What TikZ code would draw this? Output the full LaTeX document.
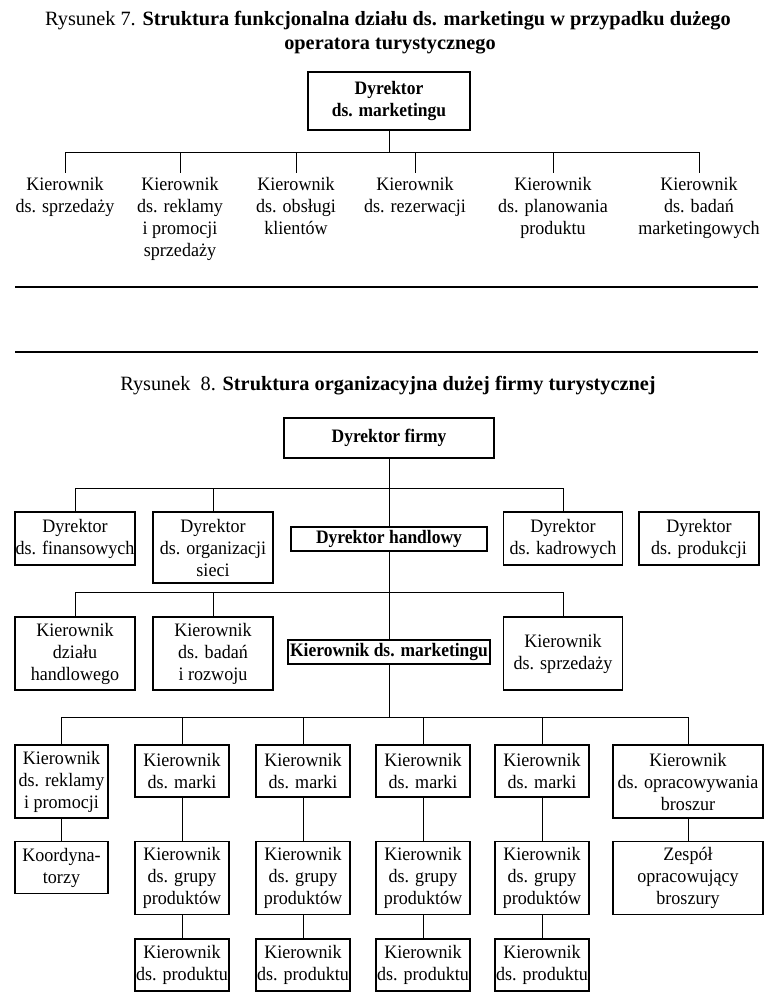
\documentclass[tikz,border=0pt]{standalone}
\usepackage{fontspec}
\setmainfont{Liberation Serif}
\newfontfamily\bodyf{Liberation Serif}[FakeStretch=0.95]
\newfontfamily\boldf{Liberation Serif}[FakeStretch=0.92]
\begin{document}
\begin{tikzpicture}[x=1pt,y=-1pt,
  every node/.style={font=\bodyf\fontsize{19}{22}\selectfont, align=center, inner sep=0pt},
  title/.style={font=\rmfamily\fontsize{20.3}{25}\selectfont},
  box/.style={draw, line width=1.2pt},
  bx/.style 2 args={box, minimum width=#1pt, minimum height=#2pt},
  bold/.style={font=\boldf\bfseries\fontsize{19}{22}\selectfont},
  lbl/.style={anchor=north, inner ysep=4pt},
  ln/.style={line width=0.9pt},
  rule/.style={line width=2.6pt}
]
\useasboundingbox (0,0) rectangle (769,1004);

% ---------- Figure 7 ----------
\node[title] (t7a) at (388,21) {Rysunek 7. \textbf{Struktura funkcjonalna działu ds. marketingu w przypadku dużego}};
\node[title] (t7b) at (390,46) {\textbf{operatora turystycznego}};

\node[bx={162}{58}, bold] (dm) at (389,101) {Dyrektor\\ds. marketingu};
\coordinate (b7) at (389,152);

\node[lbl] (k1) at (65,173) {Kierownik\\ds. sprzedaży};
\node[lbl] (k2) at (180,173) {Kierownik\\ds. reklamy\\i promocji\\sprzedaży};
\node[lbl] (k3) at (296,173) {Kierownik\\ds. obsługi\\klientów};
\node[lbl] (k4) at (415,173) {Kierownik\\ds. rezerwacji};
\node[lbl] (k5) at (553,173) {Kierownik\\ds. planowania\\produktu};
\node[lbl] (k6) at (699,173) {Kierownik\\ds. badań\\marketingowych};

\draw[ln] (dm.south) -- (b7);
\foreach \k in {k1,k2,k3,k4,k5,k6} \draw[ln] (b7) -| (\k.north);

\draw[rule] (15,287) -- (758,287);
\draw[rule] (15,352) -- (758,352);

% ---------- Figure 8 ----------
\node[title] (t8) at (388,386) {Rysunek~~8. \textbf{Struktura organizacyjna dużej firmy turystycznej}};

\node[bx={210}{40}, bold] (df) at (389,438) {Dyrektor firmy};

\node[bx={120}{53}] (fin) at (75,538.5) {Dyrektor\\ds. finansowych};
\node[bx={120}{71}] (org) at (213,547.5) {Dyrektor\\ds. organizacji\\sieci};
\node[bx={196}{24}, bold] (dh) at (389,539) {Dyrektor handlowy};
\node[bx={119}{53}] (kad) at (563,538.5) {Dyrektor\\ds. kadrowych};
\node[bx={120}{53}] (prod) at (699,538.5) {Dyrektor\\ds. produkcji};

\coordinate (b8a) at (389,488);
\draw[ln] (df.south) -- (dh.north);
\foreach \k in {fin,org,kad} \draw[ln] (b8a) -| (\k.north);

\node[bx={120}{73}] (kdh) at (75,653.5) {Kierownik\\działu\\handlowego};
\node[bx={120}{73}] (kbr) at (213,653.5) {Kierownik\\ds. badań\\i rozwoju};
\node[bx={202}{24}, bold] (km) at (389,652) {Kierownik ds. marketingu};
\node[bx={119}{73}] (ksp) at (563,653.5) {Kierownik\\ds. sprzedaży};

\coordinate (b8b) at (389,592);
\draw[ln] (dh.south) -- (km.north);
\foreach \k in {kdh,kbr,ksp} \draw[ln] (b8b) -| (\k.north);

\node[bx={93}{73}] (r1) at (61.5,781.5) {Kierownik\\ds. reklamy\\i promocji};
\node[bx={94}{52}] (m1) at (182,771) {Kierownik\\ds. marki};
\node[bx={94}{52}] (m2) at (303,771) {Kierownik\\ds. marki};
\node[bx={94}{52}] (m3) at (423,771) {Kierownik\\ds. marki};
\node[bx={94}{52}] (m4) at (542,771) {Kierownik\\ds. marki};
\node[bx={150}{73}] (ob) at (688,781.5) {Kierownik\\ds. opracowywania\\broszur};

\coordinate (b8c) at (389,717);
\draw[ln] (km.south) -- (b8c);
\foreach \k in {r1,m1,m2,m3,m4,ob} \draw[ln] (b8c) -| (\k.north);

\node[bx={93}{52}] (ko) at (61.5,867.5) {Koordyna-\\torzy};
\node[bx={94}{73}] (g1) at (182,878) {Kierownik\\ds. grupy\\produktów};
\node[bx={94}{73}] (g2) at (303,878) {Kierownik\\ds. grupy\\produktów};
\node[bx={94}{73}] (g3) at (423,878) {Kierownik\\ds. grupy\\produktów};
\node[bx={94}{73}] (g4) at (542,878) {Kierownik\\ds. grupy\\produktów};
\node[bx={150}{73}] (zo) at (688,878) {Zespół\\opracowujący\\broszury};

\draw[ln] (r1.south) -- (ko.north);
\draw[ln] (m1.south) -- (g1.north);
\draw[ln] (m2.south) -- (g2.north);
\draw[ln] (m3.south) -- (g3.north);
\draw[ln] (m4.south) -- (g4.north);
\draw[ln] (ob.south) -- (zo.north);

\node[bx={94}{52}] (p1) at (182,965) {Kierownik\\ds. produktu};
\node[bx={94}{52}] (p2) at (303,965) {Kierownik\\ds. produktu};
\node[bx={94}{52}] (p3) at (423,965) {Kierownik\\ds. produktu};
\node[bx={94}{52}] (p4) at (542,965) {Kierownik\\ds. produktu};

\draw[ln] (g1.south) -- (p1.north);
\draw[ln] (g2.south) -- (p2.north);
\draw[ln] (g3.south) -- (p3.north);
\draw[ln] (g4.south) -- (p4.north);
\end{tikzpicture}
\end{document}
